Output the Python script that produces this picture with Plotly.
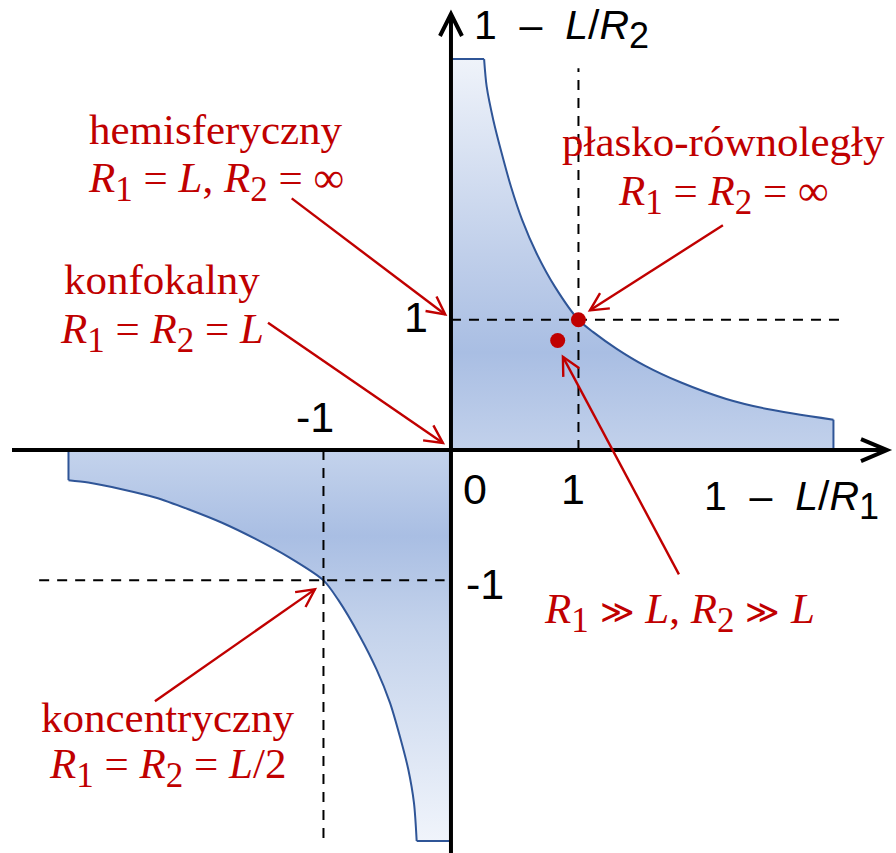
import math
import plotly.graph_objects as go

# ---------------- data ----------------
# boundary of the stable region in the first quadrant (g1, g2)
upper_curve_x = [0.26, 0.28, 0.332, 0.398, 0.471, 0.559, 0.672, 0.816, 1.0,
                 1.116, 1.30, 1.52, 1.80, 2.16, 2.48, 3.0]
upper_curve_y = [3.0, 2.79, 2.533, 2.277, 2.02, 1.764, 1.508, 1.252, 1.0,
                 0.905, 0.777, 0.648, 0.52, 0.392, 0.315, 0.233]
# boundary of the stable region in the third quadrant
lower_curve_x = [-3.0, -2.845, -2.583, -2.32, -2.06, -1.80, -1.537, -1.276, -1.0,
                 -0.884, -0.714, -0.583, -0.478, -0.40, -0.335, -0.29, -0.269]
lower_curve_y = [-0.231, -0.249, -0.30, -0.364, -0.454, -0.556, -0.68, -0.82, -1.0,
                 -1.15, -1.43, -1.685, -1.94, -2.2, -2.45, -2.71, -3.0]

# special resonators (red dots)
points_x = [1.0, 0.837]
points_y = [1.0, 0.841]

# dashed guide lines: (x0, y0, x1, y1)
guides_x0 = [1.0, 0.0, -1.0, -3.23]
guides_y0 = [0.0, 1.0, 0.0, -1.0]
guides_x1 = [1.0, 3.106, -1.0, -0.05]
guides_y1 = [2.93, 1.0, -3.01, -1.0]

# tick labels
tick_text = ["0", "1", "-1", "-1", "1"]

# labels (Polish) and their arrows
SUB = '<span style="font-size:35px;baseline-shift:-9px">%s</span>'
R1 = "<i>R</i>" + SUB % "1"
R2 = "<i>R</i>" + SUB % "2"
GG = '<span style="font-size:33px">≫</span>'
label_lines = [
    "hemisferyczny",
    R1 + " = <i>L</i>, " + R2 + " = ∞",
    "konfokalny",
    R1 + " = " + R2 + " = <i>L</i>",
    "płasko-równoległy",
    R1 + " = " + R2 + " = ∞",
    R1 + " " + GG + " <i>L</i>, " + R2 + " " + GG + " <i>L</i>",
    "koncentryczny",
    R1 + " = " + R2 + " = <i>L</i>/2",
]
arrow_tail_x = [-1.249, -1.435, 2.133, 1.788, -2.322]
arrow_tail_y = [1.931, 0.977, 1.725, -0.954, -1.928]
arrow_tip_x = [-0.045, -0.063, 1.09, 0.878, -1.067]
arrow_tip_y = [1.04, 0.054, 1.072, 0.715, -1.069]

# ---------------- layout constants ----------------
W, H = 896, 853
XR = [-3.443, 3.420]
YR = [-3.092, 3.346]
XD = [12 / W, 887 / W]
YD = [0.0, 1 - 14 / H]
SX = W * (XD[1] - XD[0]) / (XR[1] - XR[0])   # px per unit
SY = H * (YD[1] - YD[0]) / (YR[1] - YR[0])

RED = "#c00000"
BLUE_LINE = "#2f5597"
SERIF = "Liberation Serif, DejaVu Serif, serif"
SANS = "Liberation Sans, Arial, sans-serif"

fig = go.Figure()

# upper region (fill)
ux = [0.0, 0.0] + upper_curve_x + [upper_curve_x[-1], 0.0]
uy = [0.0, upper_curve_y[0]] + upper_curve_y + [0.0, 0.0]
fig.add_trace(go.Scatter(
    x=ux, y=uy, mode="lines", fill="toself", line=dict(width=0),
    fillgradient=dict(type="vertical", start=0, stop=3,
                      colorscale=[[0, "#c2d1eb"], [0.25, "#a9bee3"], [0.5, "#c0cfea"],
                                  [1, "#eff3fa"]]),
    hoverinfo="skip", showlegend=False))
# lower region (fill)
lx = [0.0, lower_curve_x[0]] + lower_curve_x + [0.0, 0.0]
ly = [0.0, 0.0] + lower_curve_y + [lower_curve_y[-1], 0.0]
fig.add_trace(go.Scatter(
    x=lx, y=ly, mode="lines", fill="toself", line=dict(width=0),
    fillgradient=dict(type="vertical", start=-3, stop=0,
                      colorscale=[[0, "#f0f4fb"], [0.55, "#c3d2eb"], [0.78, "#a9bee3"],
                                  [1, "#c4d3ec"]]),
    hoverinfo="skip", showlegend=False))

# outlines: curves (smooth) and straight edges
for cx, cy in [(upper_curve_x, upper_curve_y), (lower_curve_x, lower_curve_y)]:
    fig.add_trace(go.Scatter(x=cx, y=cy, mode="lines",
                             line=dict(color=BLUE_LINE, width=2, shape="spline", smoothing=0.8),
                             hoverinfo="skip", showlegend=False))
fig.add_trace(go.Scatter(
    x=[0.0, upper_curve_x[0], None, upper_curve_x[-1], upper_curve_x[-1]],
    y=[upper_curve_y[0], upper_curve_y[0], None, upper_curve_y[-1], 0.0],
    mode="lines", line=dict(color=BLUE_LINE, width=2), hoverinfo="skip", showlegend=False))
fig.add_trace(go.Scatter(
    x=[lower_curve_x[0], lower_curve_x[0], None, lower_curve_x[-1], 0.0],
    y=[0.0, lower_curve_y[0], None, lower_curve_y[-1], lower_curve_y[-1]],
    mode="lines", line=dict(color=BLUE_LINE, width=2), hoverinfo="skip", showlegend=False))

# dashed guides
gx, gy = [], []
for a, b, c, d in zip(guides_x0, guides_y0, guides_x1, guides_y1):
    gx += [a, c, None]
    gy += [b, d, None]
fig.add_trace(go.Scatter(x=gx, y=gy, mode="lines",
                         line=dict(color="black", width=2, dash="10px,8px"),
                         hoverinfo="skip", showlegend=False))

# red points
fig.add_trace(go.Scatter(x=points_x, y=points_y, mode="markers",
                         marker=dict(color=RED, size=15, line=dict(width=0)),
                         hoverinfo="skip", showlegend=False, cliponaxis=False))

shapes = [
    # axes
    dict(type="line", xref="x domain", yref="y", x0=0, x1=1, y0=0, y1=0,
         line=dict(color="black", width=4), layer="above"),
    dict(type="line", xref="x", yref="y domain", x0=0, x1=0, y0=0, y1=1,
         line=dict(color="black", width=4), layer="above"),
    # arrow heads of the axes
    dict(type="path", xref="x domain", yref="y", xsizemode="pixel", ysizemode="pixel",
         xanchor=1, yanchor=0, path="M-26,11 L0,0 L-26,-11",
         line=dict(color="black", width=4), layer="above"),
    dict(type="path", xref="x", yref="y domain", xsizemode="pixel", ysizemode="pixel",
         xanchor=0, yanchor=1, path="M-11,-22 L0,0 L11,-22",
         line=dict(color="black", width=4), layer="above"),
]

# red arrows: shaft (data coords) + open head (pixel-sized path at the tip)
WING_LEN = 20
WING_ANG = math.radians(27)
for tx0, ty0, hx, hy in zip(arrow_tail_x, arrow_tail_y, arrow_tip_x, arrow_tip_y):
    shapes.append(dict(type="line", xref="x", yref="y", x0=tx0, y0=ty0, x1=hx, y1=hy,
                       line=dict(color=RED, width=2.4), layer="above"))
    bx = (tx0 - hx) * SX          # back direction, pixels, y up
    by = (ty0 - hy) * SY
    n = math.hypot(bx, by)
    bx, by = bx / n, by / n
    pts = []
    for s in (1, -1):
        ca, sa = math.cos(s * WING_ANG), math.sin(s * WING_ANG)
        pts.append(((bx * ca - by * sa) * WING_LEN, (bx * sa + by * ca) * WING_LEN))
    path = "M%.2f,%.2f L0,0 L%.2f,%.2f" % (pts[0][0], pts[0][1], pts[1][0], pts[1][1])
    shapes.append(dict(type="path", xref="x", yref="y", xsizemode="pixel", ysizemode="pixel",
                       xanchor=hx, yanchor=hy, path=path,
                       line=dict(color=RED, width=2.4), layer="above"))

ann = []
# text labels
label_pos = [(-1.843, 2.46), (-1.84, 2.06), (-2.27, 1.31), (-2.27, 0.905),
             (2.14, 2.37), (2.135, 1.96), (1.79, -1.245), (-2.22, -2.05), (-2.227, -2.435)]
for t, (x, y) in zip(label_lines, label_pos):
    ann.append(dict(x=x, y=y, xref="x", yref="y", text=t, showarrow=False,
                    xanchor="center", yanchor="middle",
                    font=dict(family=SERIF, size=43, color=RED)))

# axis titles
NB = "\u00a0"
SUBA = '<span style="font-size:36px;baseline-shift:-9px">%s</span>'
ann.append(dict(x=0.867, y=3.23, xref="x", yref="y",
                text="1" + NB * 2 + "–" + NB * 2 + "<i>L</i>/<i>R</i>" + SUBA % "2",
                showarrow=False, xanchor="center", yanchor="middle",
                font=dict(family=SANS, size=41, color="black")))
ann.append(dict(x=2.672, y=-0.385, xref="x", yref="y",
                text="1" + NB * 2 + "–" + NB * 2 + "<i>L</i>/<i>R</i>" + SUBA % "1",
                showarrow=False, xanchor="center", yanchor="middle",
                font=dict(family=SANS, size=41, color="black")))

# tick labels
tick_pos = [(0.188, -0.30), (0.957, -0.30), (0.263, -1.03), (-1.07, 0.255), (-0.278, 1.023)]
for t, (x, y) in zip(tick_text, tick_pos):
    ann.append(dict(x=x, y=y, xref="x", yref="y", text=t, showarrow=False,
                    xanchor="center", yanchor="middle",
                    font=dict(family=SANS, size=43, color="black")))

fig.update_layout(
    width=W, height=H,
    margin=dict(l=0, r=0, t=0, b=0),
    paper_bgcolor="white", plot_bgcolor="white",
    xaxis=dict(range=XR, domain=XD, visible=False, showgrid=False, zeroline=False, fixedrange=True),
    yaxis=dict(range=YR, domain=YD, visible=False, showgrid=False, zeroline=False, fixedrange=True),
    shapes=shapes, annotations=ann, showlegend=False,
)

fig.write_html("out.html", config={"displayModeBar": False},
               post_script="document.body.style.margin='0px';document.body.style.overflow='hidden';")
